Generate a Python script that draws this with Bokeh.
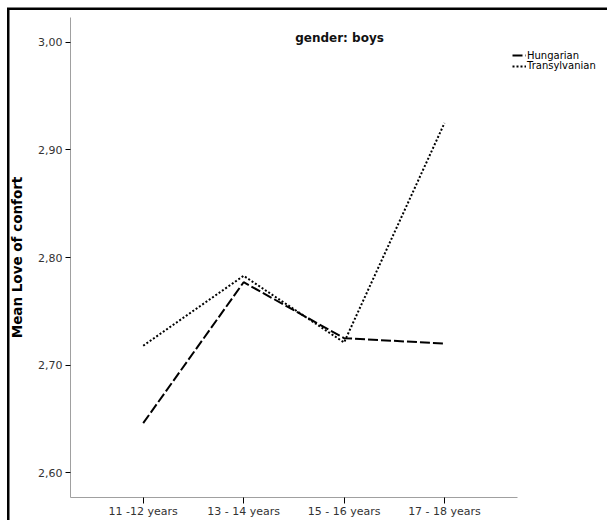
from bokeh.plotting import figure
from bokeh.models import (Range1d, FixedTicker, CustomJSTickFormatter,
                          Legend, LegendItem, Label)
from bokeh.embed import file_html
from bokeh.resources import INLINE

# ---- data ----
age_groups = ["11 -12 years", "13 - 14 years", "15 - 16 years", "17 - 18 years"]
hungarian = [2.646, 2.777, 2.725, 2.720]
transylvanian = [2.718, 2.783, 2.721, 2.925]
y_ticks = [2.60, 2.70, 2.80, 2.90, 3.00]
title_text = "gender: boys"
y_label = "Mean Love of confort"

FONT = "DejaVu Sans"

# category positions on the x scale
x_pos = list(range(1, len(age_groups) + 1))

p = figure(width=607, height=520, output_backend="svg", toolbar_location=None,
           x_range=Range1d(0.2761, 5.6231),
           y_range=Range1d(2.5769, 3.0231),
           min_border_left=70, min_border_right=0, min_border_top=17, min_border_bottom=20)
p.outline_line_color = None
p.xgrid.visible = False
p.ygrid.visible = False
p.background_fill_color = None
p.border_fill_color = None
# outer chart border (left and top edges), drawn with CSS
p.styles = {"box-shadow": "inset 7px 7.5px 0 0 white, inset 9.5px 10px 0 0 black",
            "background-color": "white"}

r_h = p.line(x_pos, hungarian, line_color="black", line_width=2, line_dash="10 3")
r_t = p.line(x_pos, transylvanian, line_color="black", line_width=2, line_dash="2 2")

# axes
for ax in (p.xaxis[0], p.yaxis[0]):
    ax.axis_line_color = "#a0a0a0"
    ax.axis_line_width = 1
    ax.major_tick_line_color = "black"
    ax.major_tick_line_width = 1
    ax.major_tick_in = 0
    ax.minor_tick_line_color = None
    ax.major_label_text_font = FONT
    ax.major_label_text_font_size = "11px"
    ax.major_label_text_color = "#333333"

p.xaxis.ticker = FixedTicker(ticks=x_pos)
p.xaxis.major_label_overrides = {x: lab for x, lab in zip(x_pos, age_groups)}
p.xaxis.bounds = (0.2761, 4.727)
p.xaxis.major_tick_out = 6
p.xaxis.major_label_standoff = 1

p.yaxis.ticker = FixedTicker(ticks=y_ticks)
p.yaxis.formatter = CustomJSTickFormatter(code="return tick.toFixed(2).replace('.', ',');")
p.yaxis.major_tick_out = 5
p.yaxis.major_label_standoff = 3
p.yaxis.axis_label = y_label
p.yaxis.axis_label_text_font = FONT
p.yaxis.axis_label_text_font_size = "13.5px"
p.yaxis.axis_label_text_font_style = "bold"
p.yaxis.axis_label_text_color = "black"
p.yaxis.axis_label_standoff = 10

# title inside the chart area
p.add_layout(Label(x=339, y=37, x_units="canvas", y_units="canvas", text=title_text,
                   text_font=FONT, text_font_size="12px", text_font_style="bold",
                   text_color="#111111", text_align="center", text_baseline="alphabetic"))

# legends (one item each, stacked tightly)
def make_legend(label, renderer, loc):
    return Legend(items=[LegendItem(label=label, renderers=[renderer])], location=loc,
                  label_text_font=FONT, label_text_font_size="10px", label_text_color="black",
                  glyph_width=14, glyph_height=8, label_height=8, label_standoff=1,
                  padding=0, margin=0, spacing=0, border_line_color=None,
                  background_fill_alpha=0)

p.add_layout(make_legend("Hungarian", r_h, (442, 436.5)))
p.add_layout(make_legend("Transylvanian", r_t, (442, 426)))

open("out.html", "w").write(file_html(p, INLINE))
